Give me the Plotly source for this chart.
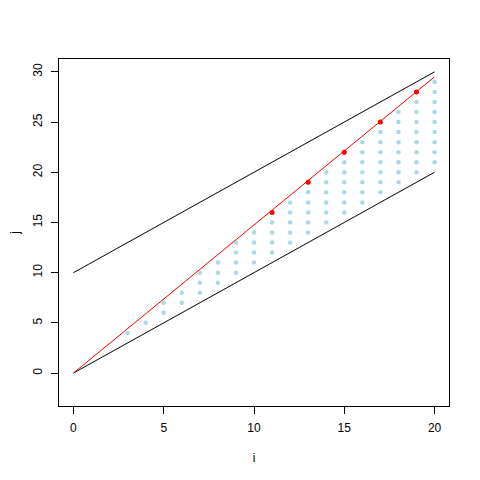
import plotly.graph_objects as go

# Boundary lines
upper_i = [0, 20]
upper_j = [10, 30]
lower_i = [0, 20]
lower_j = [0, 20]
red_line_i = [0, 20]
red_line_j = [0, 29.5]

# Light-blue grid points: per column i, j runs from jmin to jmax
col_i = [3, 4, 5, 6, 7, 8, 9, 10, 11, 12, 13, 14, 15, 16, 17, 18, 19, 20]
col_jmin = [4, 5, 6, 7, 8, 9, 10, 11, 12, 13, 14, 15, 16, 17, 18, 19, 20, 21]
col_jmax = [4, 5, 7, 8, 10, 11, 13, 14, 16, 17, 19, 20, 22, 23, 25, 26, 28, 29]

# Red points
red_i = [11, 13, 15, 17, 19]
red_j = [16, 19, 22, 25, 28]

blue_i, blue_j = [], []
for ci, lo, hi in zip(col_i, col_jmin, col_jmax):
    for jj in range(lo, hi + 1):
        blue_i.append(ci)
        blue_j.append(jj)

fig = go.Figure()
fig.add_trace(go.Scatter(x=blue_i, y=blue_j, mode="markers",
                         marker=dict(color="#ADD8E6", size=4.5), hoverinfo="skip"))
fig.add_trace(go.Scatter(x=upper_i, y=upper_j, mode="lines",
                         line=dict(color="black", width=1)))
fig.add_trace(go.Scatter(x=lower_i, y=lower_j, mode="lines",
                         line=dict(color="black", width=1)))
fig.add_trace(go.Scatter(x=red_line_i, y=red_line_j, mode="lines",
                         line=dict(color="red", width=1)))
fig.add_trace(go.Scatter(x=red_i, y=red_j, mode="markers",
                         marker=dict(color="red", size=5)))

font = dict(family="Liberation Sans, Arial", size=12, color="black")
axis_common = dict(showgrid=False, zeroline=False, showline=True, mirror=True,
                   linecolor="black", linewidth=1, ticks="outside", ticklen=7,
                   tickwidth=1, tickcolor="black", automargin=False, tickfont=font,
                   ticklabelstandoff=4)

fig.update_layout(
    width=480, height=480,
    margin=dict(l=51, r=39, t=51, b=82),
    plot_bgcolor="white", paper_bgcolor="white",
    showlegend=False,
    xaxis=dict(range=[-0.8, 20.8], tickvals=[0, 5, 10, 15, 20],
               title=dict(text="i", font=font, standoff=19),
               **axis_common),
    yaxis=dict(range=[-3.28, 31.28], tickvals=[0, 5, 10, 15, 20, 25, 30], tickangle=270,
               title=dict(text="j", font=font, standoff=12),
               **axis_common),
)

fig.write_html("out.html")
